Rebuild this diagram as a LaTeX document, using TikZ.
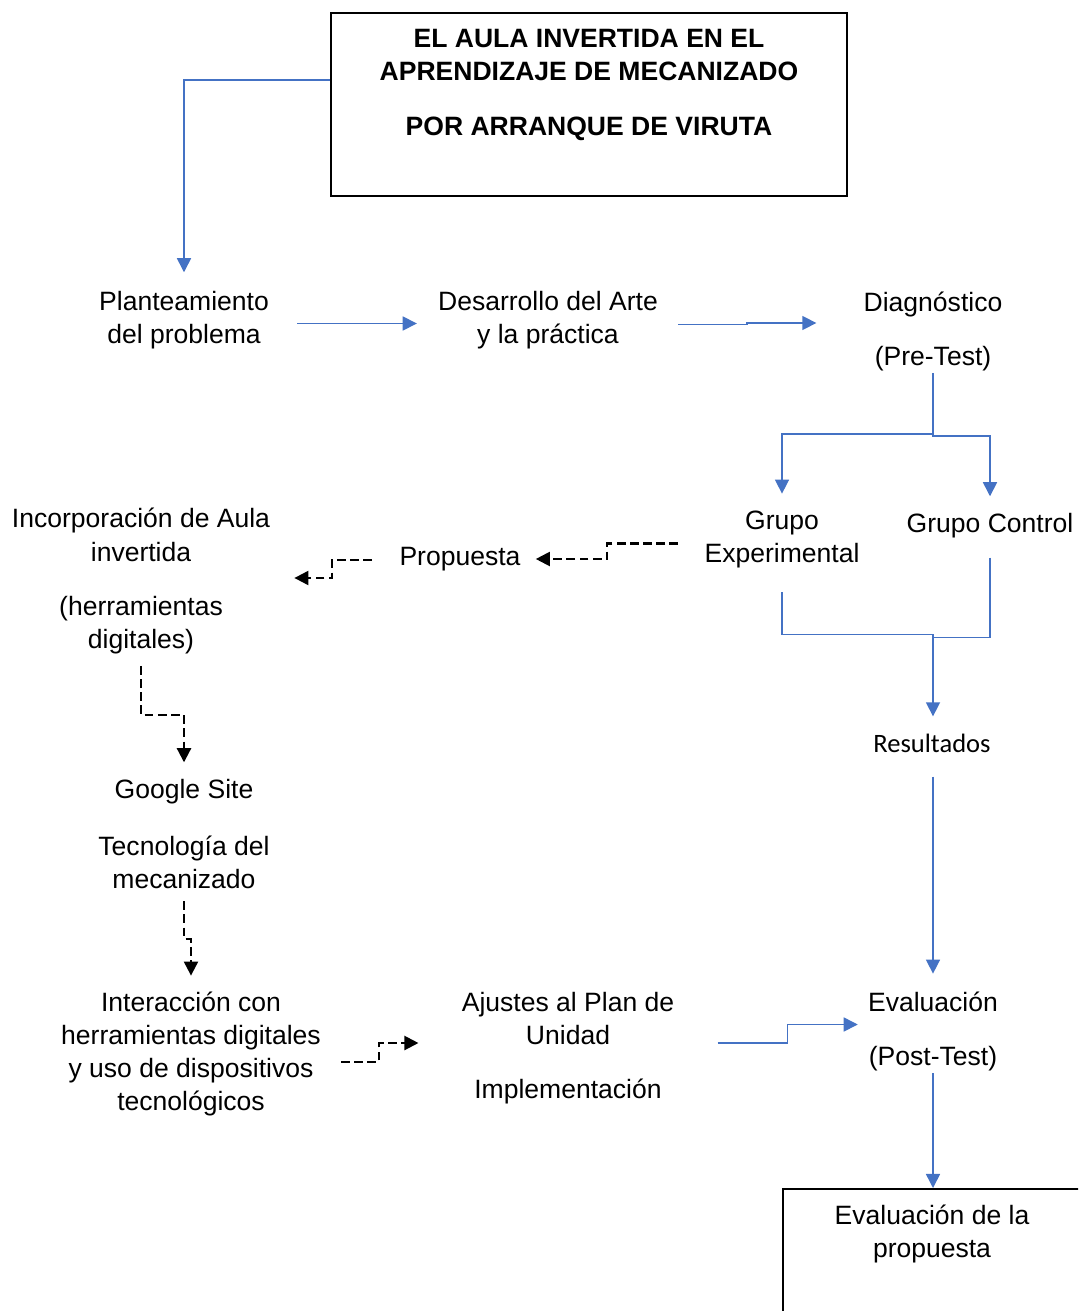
\documentclass[tikz,border=0pt]{standalone}
\usepackage{fontspec}
\setmainfont{Liberation Sans}
\newfontfamily\calibri{Carlito}
\usetikzlibrary{arrows.meta, calc, positioning}

\begin{document}
\begin{tikzpicture}[>={Triangle[length=8pt, width=8pt]}, x=.02cm, y=-.02cm]
  \tikzset{
   txt/.style={align=center, inner sep=0pt, font=\fontsize{15.1}{18.8}\selectfont},
   heading/.style={txt, font=\fontsize{15.1}{18.8}\selectfont\bfseries},
   box/.style={draw, line width=1pt, inner sep=0pt},
   flow/.style={->, draw={rgb,255:red,68;green,114;blue,196}, line width=.85pt},
   dashflow/.style={->, draw=black, line width=1.2pt, dash pattern=on 5pt off 2.5pt},
  }
  \clip (0, 0) rectangle (1078, 1311);

  \node [box, minimum width=10.32cm, minimum height=3.66cm] (titlebox) at (589, 104.5) {};
  \node [heading] (title) at (589, 85) {EL AULA INVERTIDA EN EL\\APRENDIZAJE DE MECANIZADO\\[.44cm]POR ARRANQUE DE VIRUTA};

  \node [txt] (plant) at (184, 320.5) {Planteamiento\\del problema};
  \node [txt] (desarr) at (548, 320.5) {Desarrollo del Arte\\y la práctica};
  \node [txt] (diag) at (933, 331) {Diagnóstico\\[.42cm](Pre-Test)};
  \node [txt] (exper) at (782, 539.5) {Grupo\\Experimental};
  \node [txt] (control) at (990, 526) {Grupo Control};
  \node [txt] (prop) at (460, 559) {Propuesta};
  \node [txt] (incorp) at (141, 581) {Incorporación de Aula\\invertida\\[.42cm](herramientas\\digitales)};
  \node [txt, font=\fontsize{15.1}{18.8}\selectfont\calibri] (result) at (932, 743) {Resultados};
  \node [txt] (google) at (184, 792) {Google Site};
  \node [txt] (tecno) at (184, 862.5) {Tecnología del\\mecanizado};
  \node [txt] (inter) at (191, 1054) {Interacción con\\herramientas digitales\\y uso de dispositivos\\tecnológicos};
  \node [txt] (ajustes) at (568, 1048) {Ajustes al Plan de\\Unidad\\[.42cm]Implementación};
  \node [txt] (evalua) at (933, 1031.5) {Evaluación\\[.42cm](Post-Test)};
  \node [box, anchor=north west, minimum width=7cm, minimum height=3.2cm] (evalbox) at (782, 1188) {};
  \node [txt] (evalprop) at (932, 1233.5) {Evaluación de la\\propuesta};

  \draw [flow] ($(titlebox.west)+(0, -24.5)$) -| ($(plant.north)+(0, -19)$);
  \draw [flow] ($(plant.east)+(28, 3)$) -- ($(desarr.west)+(-21, 3)$);
  \draw [flow] ($(desarr.east)+(20, 4)$) -- ++(69, 0) |- ($(diag.west)+(-47, -8)$);
  \draw [flow] ($(diag.south)+(0, 2)$) -- ++(0, 61) -| ($(exper.north)+(0, -17)$);
  \draw [flow] ($(diag.south)+(0, 63)$) -- ++(0, 2) -| ($(control.north)+(0, -17)$);
  \draw [flow] ($(exper.south)+(0, 24)$) |- ($(result.north)+(1, -99)$) -- ($(result.north)+(1, -17)$);
  \draw [flow, -] ($(control.south)+(0, 19)$) |- ($(result.north)+(1, -96)$);
  \draw [flow] ($(result.south)+(1, 24)$) -- ($(evalua.north)+(0, -18)$);
  \draw [flow] ($(ajustes.east)+(43, -5)$) -- ++(70, 0) |- ($(evalua.west)+(-10, -7)$);
  \draw [flow] ($(evalua.south)+(0, 2)$) -- ($(evalbox.north west)+(151, 0)$);

  \draw [dashflow] ($(exper.west)+(-26, 4)$) -- ++(-71, 0) |- ($(prop.east)+(15, 0)$);
  \draw [dashflow] ($(prop.west)+(-27, 1)$) -- ++(-40, 0) |- ($(incorp.east)+(24, -3)$);
  \draw [dashflow] ($(incorp.south)+(0, 12)$) -- ++(0, 49) -| ($(google.north)+(0, -17)$);
  \draw [dashflow] ($(tecno.south)+(0, 12)$) -- ++(0, 38) -| ($(inter.north)+(0, -16)$);
  \draw [dashflow] ($(inter.east)+(20, 8)$) -- ++(38, 0) |- ($(ajustes.west)+(-43, -5)$);
 \end{tikzpicture}
\end{document}
